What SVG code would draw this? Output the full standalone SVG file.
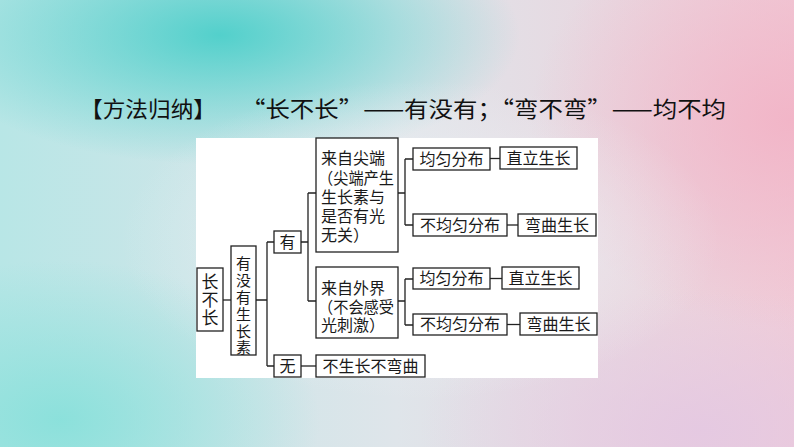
<svg xmlns="http://www.w3.org/2000/svg" width="794" height="447" viewBox="0 0 794 447">
<defs>
<linearGradient id="bg" x1="0" y1="0" x2="1" y2="0">
<stop offset="0" stop-color="#b8e6e6"/>
<stop offset="0.5" stop-color="#dfe5ea"/>
<stop offset="1" stop-color="#f0ccd8"/>
</linearGradient>
<radialGradient id="teal1" cx="0.5" cy="0.5" r="0.5">
<stop offset="0" stop-color="#4ccfca" stop-opacity="0.95"/>
<stop offset="1" stop-color="#4ccfca" stop-opacity="0"/>
</radialGradient>
<radialGradient id="teal2" cx="0.5" cy="0.5" r="0.5">
<stop offset="0" stop-color="#86e0da" stop-opacity="0.9"/>
<stop offset="1" stop-color="#86e0da" stop-opacity="0"/>
</radialGradient>
<radialGradient id="pink1" cx="0.5" cy="0.5" r="0.5">
<stop offset="0" stop-color="#f2b3c6" stop-opacity="0.9"/>
<stop offset="1" stop-color="#f2b3c6" stop-opacity="0"/>
</radialGradient>
<radialGradient id="lav" cx="0.5" cy="0.5" r="0.5">
<stop offset="0" stop-color="#e4c8e2" stop-opacity="0.9"/>
<stop offset="1" stop-color="#e4c8e2" stop-opacity="0"/>
</radialGradient>
<radialGradient id="light" cx="0.5" cy="0.5" r="0.5">
<stop offset="0" stop-color="#eef1f4" stop-opacity="0.9"/>
<stop offset="1" stop-color="#eef1f4" stop-opacity="0"/>
</radialGradient>
</defs>
<style>
.box{fill:#fff;stroke:#222;stroke-width:1.3}
.t{font-family:"Liberation Serif","Noto Sans CJK SC",serif;font-size:16px;fill:#1a1a1a;dominant-baseline:central}
.c{text-anchor:middle}
.v{font-size:15px}
.title{font-family:"Noto Sans CJK SC","Liberation Sans",sans-serif;font-size:22px;fill:#111}
.conn{fill:none;stroke:#222;stroke-width:1.3}
</style>
<g id="background">
<rect x="0" y="0" width="794" height="447" fill="url(#bg)"/>
<ellipse cx="220" cy="35" rx="300" ry="130" fill="url(#teal1)"/>
<ellipse cx="60" cy="420" rx="260" ry="160" fill="url(#teal2)"/>
<ellipse cx="790" cy="120" rx="260" ry="210" fill="url(#pink1)"/>
<ellipse cx="700" cy="430" rx="280" ry="140" fill="url(#lav)"/>
<ellipse cx="420" cy="240" rx="300" ry="160" fill="url(#light)"/>
</g>
<g id="title">
<text class="title" x="80" y="117" textLength="136" lengthAdjust="spacingAndGlyphs">【方法归纳】</text>
<text class="title" x="241" y="117" textLength="485" lengthAdjust="spacingAndGlyphs">“长不长”——有没有；“弯不弯”——均不均</text>
</g>
<rect id="panel" x="196" y="138" width="402" height="240" fill="#fff"/>
<g id="connectors">
<path class="conn" d="M223 300H231"/>
<path class="conn" d="M256 300H267M267 242V366M267 242H274M267 366H274"/>
<path class="conn" d="M301 242H308M308 193V301M308 193H316M308 301H316"/>
<path class="conn" d="M301 366H316"/>
<path class="conn" d="M398 193H405M405 159V225M405 159H413M405 225H413"/>
<path class="conn" d="M490 158.5H500"/>
<path class="conn" d="M507 225H518"/>
<path class="conn" d="M398 301H405M405 279V325M405 279H413M405 325H413"/>
<path class="conn" d="M490 278.5H502"/>
<path class="conn" d="M507 324.5H520"/>
</g>
<g id="n1">
<rect class="box" x="197" y="268" width="26" height="63"/>
<text class="t c" style="font-size:17px"><tspan x="210" y="282">长</tspan><tspan x="210" y="300">不</tspan><tspan x="210" y="318">长</tspan></text>
</g>
<g id="n2">
<rect class="box" x="231" y="246" width="25" height="109"/>
<text class="t c v"><tspan x="243.5" y="264">有</tspan><tspan x="243.5" y="281">没</tspan><tspan x="243.5" y="298">有</tspan><tspan x="243.5" y="315">生</tspan><tspan x="243.5" y="332">长</tspan><tspan x="243.5" y="348">素</tspan></text>
</g>
<g id="n3">
<rect class="box" x="274" y="231" width="27" height="22"/>
<text class="t c" x="287.5" y="242">有</text>
</g>
<g id="n4">
<rect class="box" x="274" y="355" width="27" height="22"/>
<text class="t c" x="287.5" y="366">无</text>
</g>
<g id="n5">
<rect class="box" x="316" y="138" width="82" height="114"/>
<text class="t"><tspan x="321" y="158">来自尖端</tspan><tspan x="318" y="178" textLength="76" lengthAdjust="spacingAndGlyphs">（尖端产生</tspan><tspan x="321" y="197">生长素与</tspan><tspan x="321" y="216">是否有光</tspan><tspan x="321" y="235">无关）</tspan></text>
</g>
<g id="n6">
<rect class="box" x="316" y="267" width="82" height="71"/>
<text class="t"><tspan x="321" y="288">来自外界</tspan><tspan x="318" y="307" textLength="76" lengthAdjust="spacingAndGlyphs">（不会感受</tspan><tspan x="321" y="325">光刺激）</tspan></text>
</g>
<g id="n7">
<rect class="box" x="316" y="355" width="109" height="22"/>
<text class="t c" x="370.5" y="366">不生长不弯曲</text>
</g>
<g id="n8">
<rect class="box" x="413" y="148" width="77" height="22"/>
<text class="t c" x="451.5" y="159">均匀分布</text>
</g>
<g id="n9">
<rect class="box" x="500" y="147" width="77" height="22"/>
<text class="t c" x="538.5" y="158">直立生长</text>
</g>
<g id="n10">
<rect class="box" x="413" y="214" width="94" height="22"/>
<text class="t c" x="460" y="225">不均匀分布</text>
</g>
<g id="n11">
<rect class="box" x="518" y="214" width="78" height="22"/>
<text class="t c" x="557" y="225">弯曲生长</text>
</g>
<g id="n12">
<rect class="box" x="413" y="268" width="77" height="21"/>
<text class="t c" x="451.5" y="278.5">均匀分布</text>
</g>
<g id="n13">
<rect class="box" x="502" y="267" width="77" height="22"/>
<text class="t c" x="540.5" y="278">直立生长</text>
</g>
<g id="n14">
<rect class="box" x="413" y="314" width="94" height="21"/>
<text class="t c" x="460" y="324.5">不均匀分布</text>
</g>
<g id="n15">
<rect class="box" x="520" y="313" width="77" height="22"/>
<text class="t c" x="558.5" y="324">弯曲生长</text>
</g>
</svg>
